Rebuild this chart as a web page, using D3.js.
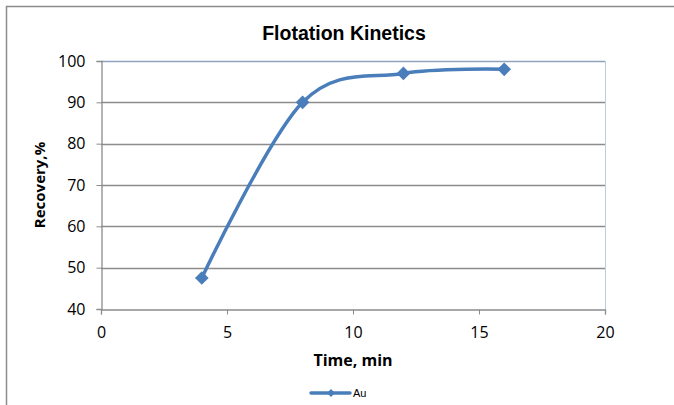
<!DOCTYPE html>
<html lang="en">
<head>
<meta charset="utf-8">
<title>Flotation Kinetics</title>
<script src="https://d3js.org/d3.v7.min.js"></script>
<style>
  body { margin: 0; background: #fff; }
</style>
</head>
<body>
<div id="viz"></div>
<script>
// data
const times = [4, 8, 12, 16];
const recovery = [47.5, 90, 97, 98];
const seriesName = "Au";
const xTicks = [0, 5, 10, 15, 20];
const yTicks = [40, 50, 60, 70, 80, 90, 100];

const W = 674, H = 405;
const margin = {top: 61, right: 69, bottom: 96, left: 101};
const width = W - margin.left - margin.right;
const height = H - margin.top - margin.bottom;

const svg = d3.select("#viz").append("svg")
    .attr("width", W)
    .attr("height", H);

// chart area border (only top and left visible)
svg.append("path")
    .attr("d", `M6.5,${H} V6.5 H${W}`)
    .attr("fill", "none")
    .attr("stroke", "#8c8c8c")
    .attr("stroke-width", 1.5);

const g = svg.append("g")
    .attr("transform", `translate(${margin.left},${margin.top})`);

const x = d3.scaleLinear().domain([0, 20]).range([0, width]);
const y = d3.scaleLinear().domain([40, 100]).range([height, 0]);

// gridlines
g.append("g")
    .selectAll("line")
    .data(yTicks.filter(d => d > 40))
    .join("line")
    .attr("x1", 0)
    .attr("x2", width)
    .attr("y1", d => Math.round(y(d)) + 0.5)
    .attr("y2", d => Math.round(y(d)) + 0.5)
    .attr("stroke", d => d === 100 ? "#8ea3bd" : "#8c8c8c")
    .attr("stroke-width", 1.3);

// right edge of plot area
g.append("line")
    .attr("x1", width + 0.5).attr("x2", width + 0.5)
    .attr("y1", 0).attr("y2", height)
    .attr("stroke", "#b9cde5");

// x axis
const xAxis = g.append("g")
    .attr("transform", `translate(0,${height + 0.5})`)
    .call(d3.axisBottom(x).tickValues(xTicks).tickSize(5).tickPadding(12));
// y axis
const yAxis = g.append("g")
    .attr("transform", "translate(0.5,0)")
    .call(d3.axisLeft(y).tickValues(yTicks).tickSize(5).tickPadding(11));

[xAxis, yAxis].forEach(ax => {
  ax.attr("font-size", null).attr("font-family", null);
  ax.select(".domain").attr("stroke", "#8c8c8c").attr("stroke-width", 1.3);
  ax.selectAll(".tick line").attr("stroke", "#8c8c8c");
  ax.selectAll("text")
      .style("font-family", "'Open Sans', 'Liberation Sans', sans-serif")
      .style("font-size", "16px")
      .attr("fill", "#000");
});

// series (smoothed like the spreadsheet line)
const data = times.map((t, i) => ({t: t, v: recovery[i]}));
const color = "#4a7ebb";

g.append("path")
    .datum(data)
    .attr("fill", "none")
    .attr("stroke", color)
    .attr("stroke-width", 3.5)
    .attr("stroke-linecap", "round")
    .attr("d", d3.line()
        .x(d => x(d.t))
        .y(d => y(d.v))
        .curve(d3.curveCatmullRom.alpha(0)));

g.selectAll(".pt")
    .data(data)
    .join("path")
    .attr("class", "pt")
    .attr("transform", d => `translate(${x(d.t)},${y(d.v)})`)
    .attr("d", d3.symbol(d3.symbolDiamond2, 120)())
    .attr("fill", color);

// title
svg.append("text")
    .attr("x", 344)
    .attr("y", 40)
    .attr("text-anchor", "middle")
    .attr("font-family", "'Liberation Sans', Arial, sans-serif")
    .attr("font-weight", "bold")
    .attr("font-size", 19.5)
    .text("Flotation Kinetics");

// axis titles
svg.append("text")
    .attr("x", margin.left + width / 2)
    .attr("y", 366)
    .attr("text-anchor", "middle")
    .attr("font-family", "'Open Sans', 'Liberation Sans', sans-serif")
    .attr("font-weight", "bold")
    .attr("font-size", 16)
    .text("Time, min");

svg.append("text")
    .attr("transform", `translate(45,${margin.top + height / 2}) rotate(-90)`)
    .attr("text-anchor", "middle")
    .attr("font-family", "'Open Sans', 'Liberation Sans', sans-serif")
    .attr("font-weight", "bold")
    .attr("font-size", 15)
    .text("Recovery,%");

// legend
const lg = svg.append("g").attr("transform", "translate(311,393)");
lg.append("line")
    .attr("x1", 0).attr("x2", 39)
    .attr("stroke", color)
    .attr("stroke-width", 3.5)
    .attr("stroke-linecap", "round");
lg.append("path")
    .attr("transform", "translate(20,0)")
    .attr("d", d3.symbol(d3.symbolDiamond2, 40)())
    .attr("fill", color);
lg.append("text")
    .attr("x", 42)
    .attr("y", 4)
    .attr("font-family", "'Liberation Sans', Arial, sans-serif")
    .attr("font-size", 11)
    .text(seriesName);
</script>
</body>
</html>
